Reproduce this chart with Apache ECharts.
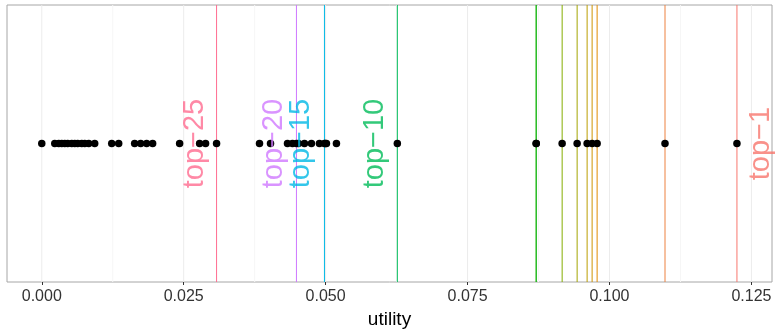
<!DOCTYPE html>
<html>
<head>
<meta charset="utf-8">
<script src="https://cdn.jsdelivr.net/npm/echarts@6/dist/echarts.min.js"></script>
<style>
  html, body { margin: 0; padding: 0; background: #fff; }
  #chart { width: 780px; height: 335px; }
</style>
</head>
<body>
<div id="chart"></div>
<script>
// utility value of every item (all drawn on one row)
const utilities = [
  0, 0.00229, 0.00299, 0.00352, 0.00405, 0.00457, 0.00528, 0.00581, 0.00633,
  0.00704, 0.00757, 0.00827, 0.00932, 0.01232, 0.01355, 0.01636, 0.01742,
  0.01847, 0.01953, 0.02428, 0.0278, 0.02885, 0.03079, 0.03835, 0.04029,
  0.04328, 0.04416, 0.04486, 0.04521, 0.04627, 0.0475, 0.04891, 0.04979,
  0.04996, 0.05014, 0.0519, 0.06263, 0.08709, 0.08709, 0.09166, 0.0943,
  0.09606, 0.09694, 0.09782, 0.10978, 0.12245
];

// top-k thresholds (vertical lines)
const topK = [1, 2, 3, 4, 5, 6, 7, 8, 9, 10, 15, 20, 25];
const thresholds = [
  0.12245, 0.10978, 0.09782, 0.09694, 0.09606, 0.0943, 0.09166, 0.08709,
  0.08709, 0.06263, 0.04979, 0.04486, 0.03079
];

// text labels
const labelNames = ['top\u22121', 'top\u221210', 'top\u221215', 'top\u221220', 'top\u221225'];
const labelK = [1, 10, 15, 20, 25];
const labelX = [0.12667, 0.05867, 0.04565, 0.0409, 0.02692];

// axis breaks
const xTicks = [0, 0.025, 0.05, 0.075, 0.1, 0.125];
const xMinor = [0.0125, 0.0375, 0.0625, 0.0875, 0.1125];

// ggplot-like hue palette (hcl, c=100, l=65)
function hcl(h, c, l) {
  const hr = h * Math.PI / 180;
  const U = c * Math.cos(hr), V = c * Math.sin(hr);
  const Y = l > 7.999592 ? Math.pow((l + 16) / 116, 3) : l / 903.3;
  const u = U / (13 * l) + 0.1978398;
  const v = V / (13 * l) + 0.4683363;
  const X = 9 * Y * u / (4 * v);
  const Z = -X / 3 - 5 * Y + 3 * Y / v;
  const g = (t) => {
    t = t > 0.00304 ? 1.055 * Math.pow(t, 1 / 2.4) - 0.055 : 12.92 * t;
    return Math.round(Math.min(1, Math.max(0, t)) * 255);
  };
  const r = g(3.240479 * X - 1.537150 * Y - 0.498535 * Z);
  const gg = g(-0.969256 * X + 1.875992 * Y + 0.041556 * Z);
  const b = g(0.055648 * X - 0.204043 * Y + 1.057311 * Z);
  return 'rgb(' + r + ',' + gg + ',' + b + ')';
}
const N_LEVELS = 25;
const colorOf = (k) => hcl(15 + (k - 1) * 360 / N_LEVELS, 100, 65);

// a full-height vertical line at x
const vline = (x, color, z) => ({
  type: 'line',
  silent: true,
  symbol: 'none',
  z: z,
  lineStyle: { color: color, width: 1 },
  data: [[x, 0], [x, 1]]
});

const chart = echarts.init(document.getElementById('chart'));

const series = [];
xMinor.forEach((x) => series.push(vline(x, '#f6f6f6', 1)));
xTicks.forEach((x) => series.push(vline(x, '#ececec', 1)));
topK.forEach((k, i) => series.push(vline(thresholds[i], colorOf(k), 2)));
series.push({
  type: 'scatter',
  silent: true,
  z: 3,
  symbolSize: 7.5,
  itemStyle: { color: '#000', opacity: 1 },
  data: utilities.map((u) => [u, 0.5])
});
series.push({
  type: 'scatter',
  silent: true,
  z: 4,
  symbolSize: 0,
  data: labelNames.map((name, i) => ({
    value: [labelX[i], 0.5],
    label: {
      show: true,
      formatter: name,
      position: 'inside',
      rotate: 90,
      align: 'center',
      verticalAlign: 'middle',
      fontFamily: 'Liberation Sans',
      fontSize: 29,
      color: colorOf(labelK[i])
    }
  }))
});

const option = {
  animation: false,
  grid: {
    left: 7, right: 8, top: 5, bottom: 53,
    show: true, borderColor: '#a6a6a6', borderWidth: 1, backgroundColor: '#fff'
  },
  xAxis: {
    type: 'value',
    min: -0.006125,
    max: 0.128625,
    interval: 0.025,
    name: 'utility',
    nameLocation: 'middle',
    nameGap: 27,
    nameTextStyle: { fontFamily: 'Liberation Sans', fontSize: 19, color: '#000' },
    axisLine: { show: false },
    axisTick: { show: true, length: 3, customValues: xTicks, lineStyle: { color: '#333' } },
    axisLabel: {
      fontFamily: 'Liberation Sans', fontSize: 16, color: '#333', margin: 7,
      customValues: xTicks,
      formatter: (v) => v.toFixed(3)
    },
    splitLine: { show: false },
    minorSplitLine: { show: false }
  },
  yAxis: {
    type: 'value', min: 0, max: 1, show: false,
    splitLine: { show: false }
  },
  series: series
};

chart.setOption(option);
</script>
</body>
</html>
